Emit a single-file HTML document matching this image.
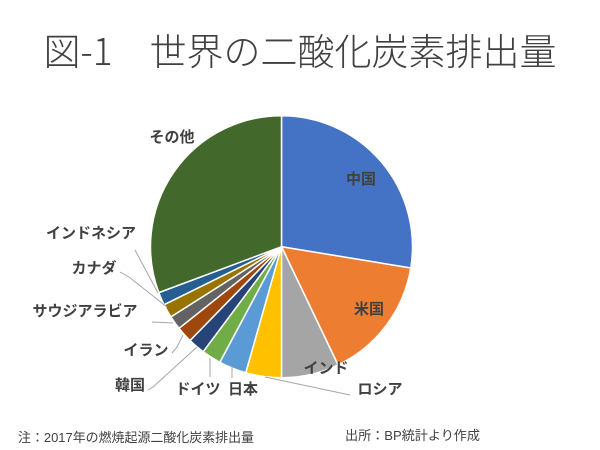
<!DOCTYPE html>
<html><head><meta charset="utf-8"><style>
html,body{margin:0;padding:0;background:#fff;}
svg{display:block;}
text{font-family:"Liberation Sans","Noto Sans CJK JP",sans-serif;}
</style></head><body>
<svg id="s" width="600" height="450" viewBox="0 0 600 450" xmlns="http://www.w3.org/2000/svg">
<rect width="600" height="450" fill="#fff"/>
<text x="300" y="65" text-anchor="middle" font-size="37" font-weight="300" fill="#404040" style="font-family:'Noto Sans CJK JP',sans-serif">図-1　世界の二酸化炭素排出量</text>
<g id="pie"></g>
<g stroke="#a6a6a6" stroke-width="1" fill="none">
<polyline points="135,250 158,293"/>
<polyline points="120,272 129,277 167,307"/>
<polyline points="152,322 173,323"/>
<polyline points="172,353 177,347 183,335"/>
<polyline points="148,390 153,387 197,347"/>
<polyline points="210,358 210,377"/>
<polyline points="232,366 232,378"/>
<polyline points="265,377 350,395"/>
</g>
<g font-size="15" font-weight="bold" fill="#404040" style="font-family:'Noto Sans CJK JP',sans-serif">
<text x="361" y="184" text-anchor="middle">中国</text>
<text x="369" y="314" text-anchor="middle">米国</text>
<text x="326" y="373" text-anchor="middle">インド</text>
<text x="380" y="394" text-anchor="middle">ロシア</text>
<text x="243" y="394" text-anchor="middle">日本</text>
<text x="198" y="394" text-anchor="middle">ドイツ</text>
<text x="130" y="390" text-anchor="middle">韓国</text>
<text x="146" y="355" text-anchor="middle">イラン</text>
<text x="85" y="316" text-anchor="middle">サウジアラビア</text>
<text x="94" y="273" text-anchor="middle">カナダ</text>
<text x="91" y="238" text-anchor="middle">インドネシア</text>
<text x="172" y="142" text-anchor="middle">その他</text>
</g>
<g font-size="13" fill="#404040" style="font-family:'Noto Sans CJK JP',sans-serif">
<text x="18" y="442" textLength="236" lengthAdjust="spacingAndGlyphs">注：2017年の燃焼起源二酸化炭素排出量</text>
<text x="345" y="440" textLength="135" lengthAdjust="spacingAndGlyphs">出所：BP統計より作成</text>
</g>
</svg>
<script>
var cx=281.5,cy=246.7,r=131;
var d=[[27.6,"#4472C4"],[15.3,"#ED7D31"],[7.1,"#A5A5A5"],[4.4,"#FFC000"],[3.4,"#5B9BD5"],[2.4,"#70AD47"],[2.1,"#264478"],[2.0,"#9E480E"],[1.7,"#636363"],[1.7,"#997300"],[1.6,"#255E91"],[30.7,"#43682B"]];
var g=document.getElementById("pie"),a=0,h="";
d.forEach(function(s){var a0=a*Math.PI/50,a1=(a+s[0])*Math.PI/50;a+=s[0];
var x0=cx+r*Math.sin(a0),y0=cy-r*Math.cos(a0),x1=cx+r*Math.sin(a1),y1=cy-r*Math.cos(a1);
h+='<path d="M'+cx+','+cy+'L'+x0+','+y0+'A'+r+','+r+' 0 '+(s[0]>50?1:0)+' 1 '+x1+','+y1+'Z" fill="'+s[1]+'" stroke="#fff" stroke-width="1.5"/>';});
g.innerHTML=h;
</script>
</body></html>
